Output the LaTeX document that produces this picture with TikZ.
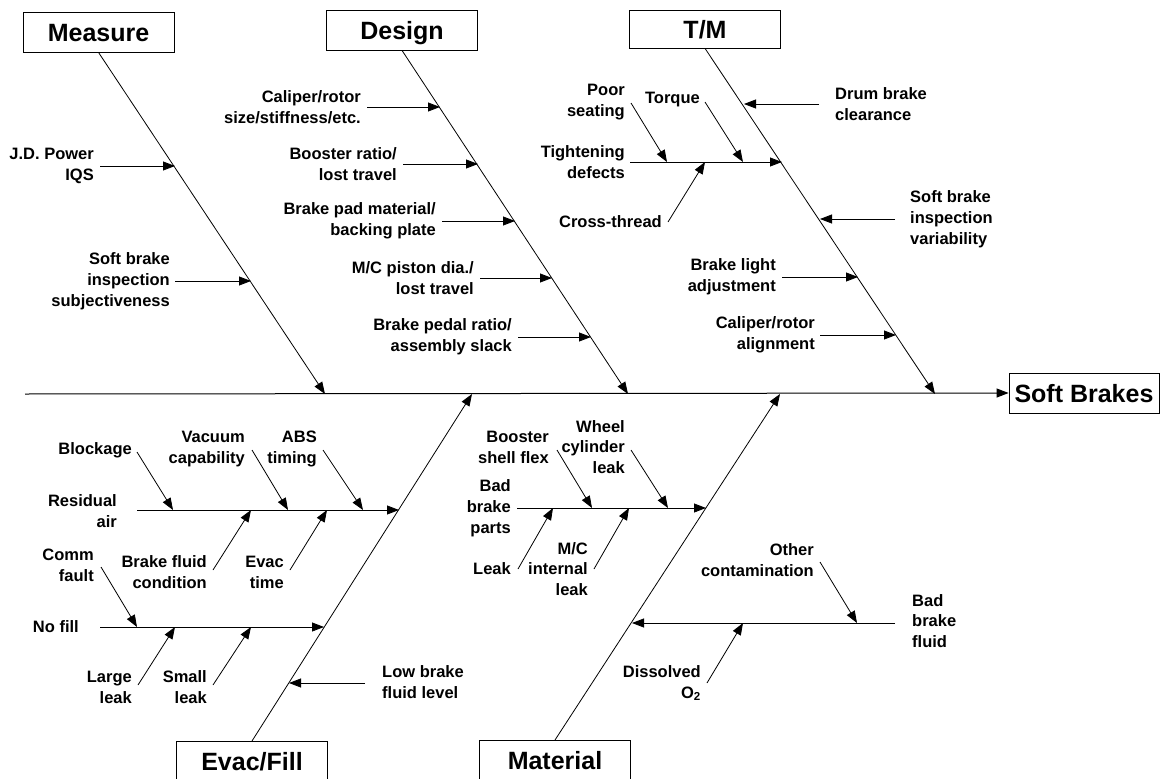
\documentclass[tikz,border=0pt]{standalone}
\usepackage{fontspec}
\setmainfont{Liberation Sans}
\usetikzlibrary{arrows.meta}
\begin{document}
\begin{tikzpicture}[x=1pt,y=-1pt,
  lbl/.style={font=\bfseries\fontsize{16.5}{20.8}\selectfont, inner sep=0pt},
  lr/.style={lbl, anchor=east, align=right},
  ll/.style={lbl, anchor=west, align=left},
  cat/.style={draw, line width=0.8pt, font=\bfseries\fontsize{25}{28}\selectfont, minimum width=151pt, minimum height=40pt, inner sep=0pt, text height=18pt, text depth=0pt},
  bone/.style={line width=0.8pt, -{Triangle[length=12pt,width=9pt]}},
  spine/.style={line width=1pt, -{Triangle[length=12pt,width=9pt]}}
]
\useasboundingbox (0,0) rectangle (1165,779);

% effect and category boxes
\node[cat, minimum width=150pt] (effect) at (1084,393) {Soft Brakes};
\node[cat] (measure) at (98.5,32) {Measure};
\node[cat] (design) at (402,30) {Design};
\node[cat, minimum height=38pt] (tm) at (705,29) {T/M};
\node[cat, anchor=north] (evac) at (252,741) {Evac/Fill};
\node[cat, anchor=north] (material) at (555,740) {Material};

% spine
\coordinate (sp0) at (25,394);
\draw[spine] (sp0) -- (effect.west);

% main bones
\coordinate (mE) at (325,394);
\coordinate (dE) at (628,394);
\coordinate (tE) at (935,394);
\coordinate (eE) at (472,394);
\coordinate (maE) at (780,394);
\draw[bone] (measure.south) -- (mE);
\draw[bone] (design.south) -- (dE);
\draw[bone] (tm.south) -- (tE);
\draw[bone] (evac.north) -- (eE);
\draw[bone] (material.north) -- (maE);

% ---------- Measure ----------
\node[lr] (jd) at (94,166) {J.D. Power\\IQS};
\coordinate (jdA) at (100,166); \coordinate (jdB) at (175,166);
\draw[bone] (jdA) -- (jdB);
\node[lr] (sbs) at (170,281) {Soft brake\\inspection\\subjectiveness};
\coordinate (sbsA) at (175,281); \coordinate (sbsB) at (251,281);
\draw[bone] (sbsA) -- (sbsB);

% ---------- Design ----------
\node[lr] (cal) at (361,107) {Caliper/rotor\\size/stiffness/etc.};
\coordinate (calA) at (367,107); \coordinate (calB) at (440,107);
\draw[bone] (calA) -- (calB);
\node[lr] (boo) at (397,164) {Booster ratio/\\lost travel};
\coordinate (booA) at (403,164); \coordinate (booB) at (478,164);
\draw[bone] (booA) -- (booB);
\node[lr] (pad) at (436,221) {Brake pad material/\\backing plate};
\coordinate (padA) at (442,221); \coordinate (padB) at (515,221);
\draw[bone] (padA) -- (padB);
\node[lr] (mcp) at (474,278) {M/C piston dia./\\lost travel};
\coordinate (mcpA) at (480,278); \coordinate (mcpB) at (552,278);
\draw[bone] (mcpA) -- (mcpB);
\node[lr] (ped) at (512,337) {Brake pedal ratio/\\assembly slack};
\coordinate (pedA) at (518,337); \coordinate (pedB) at (591,337);
\draw[bone] (pedA) -- (pedB);

% ---------- T/M ----------
\node[ll] (drum) at (835,104) {Drum brake\\clearance};
\coordinate (drumA) at (819,104); \coordinate (drumB) at (744,104);
\draw[bone] (drumA) -- (drumB);
\node[ll] (sbv) at (910,219) {Soft brake\\inspection\\variability};
\coordinate (sbvA) at (895,219); \coordinate (sbvB) at (820,219);
\draw[bone] (sbvA) -- (sbvB);
\node[lr] (bla) at (776,277) {Brake light\\adjustment};
\coordinate (blaA) at (782,277); \coordinate (blaB) at (858,277);
\draw[bone] (blaA) -- (blaB);
\node[lr] (cra) at (815,335) {Caliper/rotor\\alignment};
\coordinate (craA) at (820,335); \coordinate (craB) at (896,335);
\draw[bone] (craA) -- (craB);
\node[lr] (tig) at (625,162) {Tightening\\defects};
\coordinate (tigA) at (630,162); \coordinate (tigB) at (782,162);
\draw[bone] (tigA) -- (tigB);
\node[lr] (poor) at (625,102) {Poor\\seating};
\coordinate (poorA) at (631,103); \coordinate (poorB) at (667,162);
\draw[bone] (poorA) -- (poorB);
\node[lr] (torq) at (700,100) {Torque};
\coordinate (torqA) at (705,102); \coordinate (torqB) at (743,162);
\draw[bone] (torqA) -- (torqB);
\node[lr] (cross) at (662,222) {Cross-thread};
\coordinate (crossA) at (668,222); \coordinate (crossB) at (705,162);
\draw[bone] (crossA) -- (crossB);

% ---------- Evac/Fill ----------
\node[lr] (res) at (117,511) {Residual\\air};
\coordinate (resA) at (137,510); \coordinate (resB) at (399,510);
\draw[bone] (resA) -- (resB);
\node[lr] (blk) at (132,450) {Blockage};
\coordinate (blkA) at (137,452); \coordinate (blkB) at (173,510);
\draw[bone] (blkA) -- (blkB);
\node[lr] (vac) at (245,449) {Vacuum\\capability};
\coordinate (vacA) at (252,450); \coordinate (vacB) at (288,510);
\draw[bone] (vacA) -- (vacB);
\node[lr] (abs) at (317,449) {ABS\\timing};
\coordinate (absA) at (323,450); \coordinate (absB) at (363,510);
\draw[bone] (absA) -- (absB);
\node[lr] (bfc) at (207,572) {Brake fluid\\condition};
\coordinate (bfcA) at (213,570); \coordinate (bfcB) at (251,510);
\draw[bone] (bfcA) -- (bfcB);
\node[lr] (evt) at (284,572) {Evac\\time};
\coordinate (evtA) at (290,570); \coordinate (evtB) at (327,510);
\draw[bone] (evtA) -- (evtB);
\node[lr] (nof) at (79,627) {No fill};
\coordinate (nofA) at (100,627); \coordinate (nofB) at (324,627);
\draw[bone] (nofA) -- (nofB);
\node[lr] (com) at (94,565) {Comm\\fault};
\coordinate (comA) at (101,567); \coordinate (comB) at (137,627);
\draw[bone] (comA) -- (comB);
\node[lr] (lgl) at (132,687) {Large\\leak};
\coordinate (lglA) at (138,685); \coordinate (lglB) at (175,627);
\draw[bone] (lglA) -- (lglB);
\node[lr] (sml) at (207,687) {Small\\leak};
\coordinate (smlA) at (213,685); \coordinate (smlB) at (251,627);
\draw[bone] (smlA) -- (smlB);
\node[ll] (low) at (382,682) {Low brake\\fluid level};
\coordinate (lowA) at (365,683); \coordinate (lowB) at (289,683);
\draw[bone] (lowA) -- (lowB);

% ---------- Material ----------
\node[lr] (bbp) at (511,508) {Bad\\brake\\parts};
\coordinate (bbpA) at (517,508); \coordinate (bbpB) at (706,508);
\draw[bone] (bbpA) -- (bbpB);
\node[lr] (bsf) at (549,447) {Booster\\shell flex};
\coordinate (bsfA) at (557,450); \coordinate (bsfB) at (592,508);
\draw[bone] (bsfA) -- (bsfB);
\node[lr] (wcl) at (625,447) {Wheel\\cylinder\\leak};
\coordinate (wclA) at (631,450); \coordinate (wclB) at (668,508);
\draw[bone] (wclA) -- (wclB);
\node[lr] (leak) at (511,569) {Leak};
\coordinate (leakA) at (518,569); \coordinate (leakB) at (553,508);
\draw[bone] (leakA) -- (leakB);
\node[lr] (mci) at (588,569) {M/C\\internal\\leak};
\coordinate (mciA) at (594,569); \coordinate (mciB) at (629,508);
\draw[bone] (mciA) -- (mciB);
\node[ll] (bbf) at (912,621) {Bad\\brake\\fluid};
\coordinate (bbfA) at (895,623); \coordinate (bbfB) at (632,623);
\draw[bone] (bbfA) -- (bbfB);
\node[lr] (oth) at (814,560) {Other\\contamination};
\coordinate (othA) at (820,562); \coordinate (othB) at (857,623);
\draw[bone] (othA) -- (othB);
\node[lr] (dis) at (701,683) {Dissolved\\O\textsubscript{2}};
\coordinate (disA) at (707,683); \coordinate (disB) at (743,623);
\draw[bone] (disA) -- (disB);
\end{tikzpicture}
\end{document}
